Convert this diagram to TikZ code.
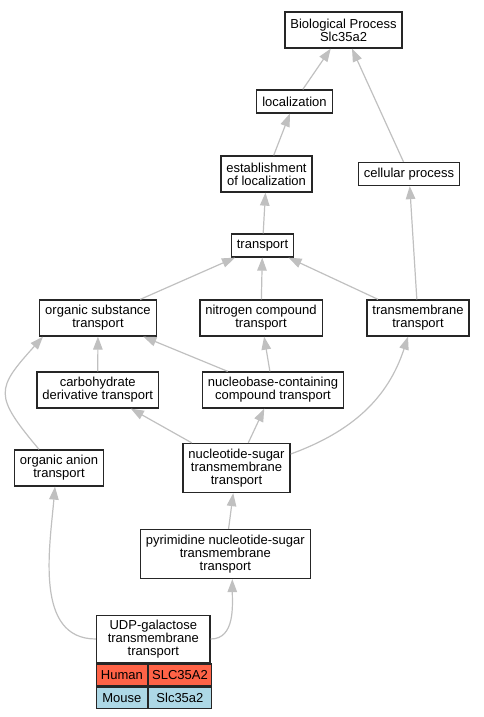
\documentclass[tikz,border=0pt]{standalone}
\usepackage{fontspec}
\setmainfont{Liberation Sans}
\usetikzlibrary{arrows.meta,positioning}
\definecolor{edgegray}{HTML}{C0C0C0}
\definecolor{human}{HTML}{FF6347}
\definecolor{mouse}{HTML}{ADD8E6}
\tikzset{
  main/.style={draw=black!85, line width=1.3pt, rectangle, align=center,
      inner xsep=5.5pt, inner ysep=2pt, font=\fontsize{13}{13}\selectfont,
      minimum height=23pt},
  two/.style={minimum height=36pt},
  three/.style={minimum height=49pt},
  cell/.style={main, minimum height=21.7pt, inner xsep=0pt, anchor=north west},
  link/.style={draw=edgegray, line width=1.2pt,
      -{Triangle[length=13pt,width=9.5pt]}}
}

\begin{document}
\begin{tikzpicture}[x=1pt,y=1pt,every edge/.style={link}]
      \useasboundingbox (0,0) rectangle (483,-717);

      \node[main,two](bp) at (343.5,-30){Biological Process\\Slc35a2};
      \node[main](loc) at (294.5,-101.5){localization};
      \node[main,two](estab) at (266.5,-174){establishment\\of localization};
      \node[main](cell) at (409,-174){cellular process};
      \node[main](transp) at (262.5,-245.5){transport};

      \node[main,two](orgsub) at (98,-318){organic substance\\transport};
      \node[main,two](nitro) at (261,-318){nitrogen compound\\transport};
      \node[main,two](tmt) at (418,-318){transmembrane\\transport};

      \node[main,two](carb) at (97.7,-390){carbohydrate\\derivative transport};
      \node[main,two](nucbase) at (273,-390){nucleobase-containing\\compound transport};

      \node[main,two](anion) at (59,-468){organic anion\\transport};
      \node[main,three](nsugar) at (236.5,-468){nucleotide-sugar\\transmembrane\\transport};
      \node[main,three](pyr) at (225.3,-554){pyrimidine nucleotide-sugar\\transmembrane\\transport};

      % gene table
      \node[main,minimum width=113.5pt,minimum height=47.5pt](udp) at (153.3,-639){UDP-galactose\\transmembrane\\transport};
      \node[cell,fill=human,minimum width=50.7pt](hum) at (udp.south west){Human};
      \node[cell,fill=human,minimum width=62.8pt](humsym) at (hum.north east){SLC35A2};
      \node[cell,fill=mouse,minimum width=50.7pt](mou) at (hum.south west){Mouse};
      \node[cell,fill=mouse,minimum width=62.8pt](mousym) at (mou.north east){Slc35a2};

      \path
      (loc) edge (bp)
      (cell) edge (bp)
      (estab) edge (loc)
      (transp) edge (estab)
      (tmt) edge (cell)

      (orgsub) edge (transp)
      (nitro) edge (transp)
      (tmt) edge (transp)

      (carb) edge (orgsub)
      (nucbase) edge (orgsub)
      (nucbase) edge (nitro)

      (nsugar) edge (carb)
      (nsugar) edge (nucbase)
      ([yshift=14pt]nsugar.east) edge[out=20,in=-108] ([xshift=-10pt]tmt.south)
      ([xshift=-20pt]anion.north) edge[out=130,in=228,looseness=1.6] ([xshift=-55pt]orgsub.south)

      (pyr) edge (nsugar)
      (udp.west) edge[out=180,in=-95] ([xshift=-4pt]anion.south)
      (udp.east) edge[out=0,in=-90] ([xshift=7pt]pyr.south)
      ;

    \end{tikzpicture}
\end{document}
